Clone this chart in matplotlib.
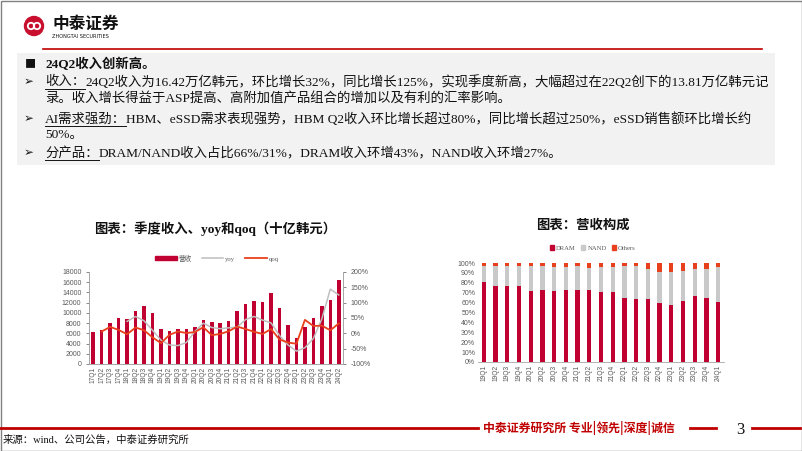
import matplotlib
matplotlib.use("Agg")
import matplotlib.pyplot as plt
from matplotlib.patches import Rectangle, Circle, Patch
from matplotlib.lines import Line2D
import numpy as np

# ---------------- data ----------------
quarters_l = ["17Q1","17Q2","17Q3","17Q4","18Q1","18Q2","18Q3","18Q4",
              "19Q1","19Q2","19Q3","19Q4","20Q1","20Q2","20Q3","20Q4",
              "21Q1","21Q2","21Q3","21Q4","22Q1","22Q2","22Q3","22Q4",
              "23Q1","23Q2","23Q3","23Q4","24Q1","24Q2"]
revenue = [6290, 6690, 8100, 9030, 8720, 10370, 11420, 9940,
           6770, 6450, 6840, 6930, 7200, 8610, 8130, 7970,
           8490, 10320, 11810, 12380, 12160, 13810, 10980, 7680,
           5090, 7310, 9070, 11310, 12430, 16420]
yoy = [None, None, None, None, 39, 55, 41, 10,
       -22, -38, -40, -30, 6, 33, 19, 15,
       18, 20, 45, 55, 43, 34, -7, -38,
       -58, -47, -17, 47, 144, 125]
qoq = [None, 6, 21, 11, -3, 19, 10, -13,
       -32, -5, 6, 1, 4, 20, -6, -2,
       7, 22, 14, 5, -2, 14, -20, -30,
       -34, 44, 24, 25, 10, 32]

quarters_r = ["19Q1","19Q2","19Q3","19Q4","20Q1","20Q2","20Q3","20Q4",
              "21Q1","21Q2","21Q3","21Q4","22Q1","22Q2","22Q3","22Q4",
              "23Q1","23Q2","23Q3","23Q4","24Q1"]
dram = [81, 77, 77, 77, 72, 73, 72, 73, 73, 73, 71, 71, 65, 64, 64, 60, 58, 62, 67, 65, 61]
nand = [16, 20, 20, 20, 25, 24, 24, 23, 24, 22, 25, 25, 32, 33, 30, 31, 33, 30, 27, 29, 35]
others = [3, 3, 3, 3, 3, 3, 4, 4, 3, 5, 4, 4, 3, 3, 6, 9, 9, 8, 6, 6, 4]

# ---------------- styling ----------------
W, H = 802, 451
RED = "#C00030"
DARKRED = "#C00000"
ORANGE = "#E8401C"
GRAYLINE = "#BFBFBF"
TICKC = "#595959"
CJK = "Noto Sans CJK SC"
BODY = ["Liberation Serif", CJK]
SANS = ["Liberation Sans", CJK]

fig = plt.figure(figsize=(W / 100, H / 100), dpi=100)
bg = fig.add_axes([0, 0, 1, 1])
bg.set_xlim(0, W)
bg.set_ylim(H, 0)
bg.axis("off")


def box(x0, y0, x1, y1):
    return [x0 / W, 1 - y1 / H, (x1 - x0) / W, (y1 - y0) / H]


# frame
bg.add_patch(Rectangle((0.5, 0.5), W - 1, H - 1, fill=False, ec="#808080", lw=1))

# logo
bg.add_patch(Circle((34, 26), 9.5, color="#C8102E"))
bg.add_patch(Circle((31, 26), 3.2, fill=False, ec="white", lw=1.3))
bg.add_patch(Circle((37, 26), 3.2, fill=False, ec="white", lw=1.3))
bg.text(52, 24, "中泰证券", fontsize=12, fontweight="bold", family=CJK,
        va="center", ha="left", color="#111111")
bg.text(52, 36, "ZHONGTAI SECURITIES", fontsize=3.6, family="DejaVu Sans",
        va="center", ha="left", color="#111111")
bg.plot([43, 762], [49, 49], color=DARKRED, lw=1.2)

# text box
bg.add_patch(Rectangle((17, 53), 758, 112, fc="#F2F2F2", ec="none"))
FS = 9.6
renderer = fig.canvas.get_renderer()


def write(x, y, s, underline=False, bold=False):
    t = bg.text(x, y, s, fontsize=FS, family=BODY, va="center", ha="left",
                fontweight="bold" if bold else "normal", color="#111111")
    bb = t.get_window_extent(renderer=renderer)
    inv = bg.transData.inverted()
    (x0, _), (x1, _) = inv.transform([(bb.x0, bb.y0), (bb.x1, bb.y0)])
    if underline:
        bg.plot([x0, x1], [y + 7, y + 7], color="#111111", lw=0.7)
    return x1


bg.text(25, 64, "■", fontsize=8, family=CJK, va="center", ha="left", color="#111111")
write(45, 64, "24Q2收入创新高。", bold=True)
arrow_ys = [82, 119, 153]
for ay in arrow_ys:
    bg.text(24, ay, "➢", fontsize=8.5, family="DejaVu Sans", va="center", ha="left", color="#111111")

x = write(45, 82, "收入：", underline=True)
write(x, 82, "24Q2收入为16.42万亿韩元，环比增长32%，同比增长125%，实现季度新高，大幅超过在22Q2创下的13.81万亿韩元记")
write(45, 99, "录。收入增长得益于ASP提高、高附加值产品组合的增加以及有利的汇率影响。")
x = write(45, 119, "AI需求强劲：", underline=True)
write(x, 119, "HBM、eSSD需求表现强势，HBM Q2收入环比增长超过80%，同比增长超过250%，eSSD销售额环比增长约")
write(45, 135, "50%。")
x = write(45, 153, "分产品：", underline=True)
write(x, 153, "DRAM/NAND收入占比66%/31%，DRAM收入环增43%，NAND收入环增27%。")

# chart titles
bg.text(215, 229, "图表：季度收入、yoy和qoq（十亿韩元）", fontsize=9.6, fontweight="bold",
        family=BODY, ha="center", va="center", color="#111111")
bg.text(583, 226, "图表：营收构成", fontsize=9.6, fontweight="bold",
        family=BODY, ha="center", va="center", color="#111111")

# ---------------- left chart ----------------
ax = fig.add_axes(box(89, 272, 343, 364))
xl = np.arange(len(quarters_l))
ax.bar(xl, revenue, width=0.42, color=RED, zorder=2)
ax.set_xlim(-0.5, len(quarters_l) - 0.5)
ax.set_ylim(0, 18000)
ax.set_yticks(np.arange(0, 18001, 2000))
ax.set_xticks(xl)
ax.set_xticklabels(quarters_l, rotation=90, fontsize=4.8, color=TICKC, family=SANS)
ax.tick_params(axis="y", labelsize=5, colors=TICKC, length=2, width=0.5)
ax.tick_params(axis="x", length=0, pad=2)
for lab in ax.get_yticklabels():
    lab.set_family(SANS)
for sp in ["top"]:
    ax.spines[sp].set_visible(False)
for sp in ["left", "right", "bottom"]:
    ax.spines[sp].set_color("#A6A6A6")
    ax.spines[sp].set_linewidth(0.6)
ax2 = ax.twinx()
yoy_x = [i for i, v in enumerate(yoy) if v is not None]
yoy_v = [v for v in yoy if v is not None]
qoq_x = [i for i, v in enumerate(qoq) if v is not None]
qoq_v = [v for v in qoq if v is not None]
ax2.plot(yoy_x, yoy_v, color=GRAYLINE, lw=1.1, zorder=3)
ax2.plot(qoq_x, qoq_v, color=ORANGE, lw=1.3, zorder=4)
ax2.set_ylim(-100, 200)
ax2.set_yticks(np.arange(-100, 201, 50))
ax2.set_yticklabels([f"{v}%" for v in range(-100, 201, 50)], fontsize=5, color=TICKC, family=SANS)
ax2.tick_params(axis="y", colors=TICKC, length=2, width=0.5)
ax2.spines["top"].set_visible(False)
for sp in ["left", "right", "bottom"]:
    ax2.spines[sp].set_color("#A6A6A6")
    ax2.spines[sp].set_linewidth(0.6)

handles = [Patch(color=RED), Line2D([], [], color=GRAYLINE, lw=1.1), Line2D([], [], color=ORANGE, lw=1.3)]
fig.legend(handles, ["营收", "yoy", "qoq"], loc="center", bbox_to_anchor=(217 / W, 1 - 258 / H),
           ncol=3, frameon=False, prop={"family": BODY, "size": 4.8}, handlelength=3.2,
           handleheight=0.6, columnspacing=1.5, handletextpad=0.3, labelcolor=TICKC)

# ---------------- right chart ----------------
axr = fig.add_axes(box(478, 263, 724, 362))
xr = np.arange(len(quarters_r))
bw = 0.36
axr.bar(xr, dram, width=bw, color=RED, zorder=2)
axr.bar(xr, nand, width=bw, bottom=dram, color="#C9C9C9", zorder=2)
bot2 = [a + b for a, b in zip(dram, nand)]
axr.bar(xr, others, width=bw, bottom=bot2, color=ORANGE, zorder=2)
axr.set_xlim(-0.5, len(quarters_r) - 0.5)
axr.set_ylim(0, 100)
axr.set_yticks(np.arange(0, 101, 10))
axr.set_yticklabels([f"{v}%" for v in range(0, 101, 10)], fontsize=5, color=TICKC, family=SANS)
axr.tick_params(axis="y", length=0, pad=2)
axr.set_xticks(xr)
axr.set_xticklabels(quarters_r, rotation=90, fontsize=4.8, color=TICKC, family=SANS)
axr.tick_params(axis="x", length=0, pad=2)
for sp in ["top", "right", "left"]:
    axr.spines[sp].set_visible(False)
axr.spines["bottom"].set_color("#A6A6A6")
axr.spines["bottom"].set_linewidth(0.6)

handles_r = [Patch(color=RED), Patch(color="#C9C9C9"), Patch(color=ORANGE)]
fig.legend(handles_r, ["DRAM", "NAND", "Others"], loc="center", bbox_to_anchor=(593 / W, 1 - 248 / H),
           ncol=3, frameon=False, prop={"family": BODY, "size": 4.8}, handlelength=0.6,
           handleheight=0.6, columnspacing=0.8, handletextpad=0.3, labelcolor=TICKC)

# ---------------- footer ----------------
bg.plot([0, 478], [428, 428], color=DARKRED, lw=2)
bg.text(483, 428, "中泰证券研究所 专业|领先|深度|诚信", fontsize=8.6, fontweight="bold",
        family=CJK, color=DARKRED, ha="left", va="center")
bg.plot([690, 716], [428, 428], color=DARKRED, lw=2)
bg.text(740, 430, "3", fontsize=12, family="Liberation Serif", color="#111111", ha="center", va="center")
bg.plot([752, 800], [428, 428], color=DARKRED, lw=2)
bg.text(3, 440, "来源：wind、公司公告，中泰证券研究所", fontsize=7.5, family=BODY,
        color="#111111", ha="left", va="center")

fig.savefig("out.png", dpi=100)
